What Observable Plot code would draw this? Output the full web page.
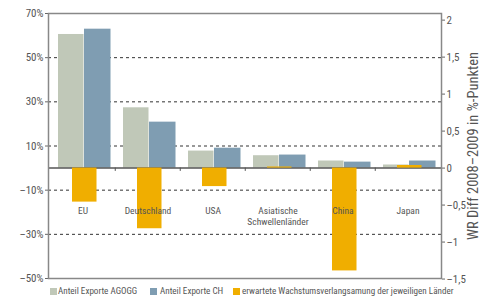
<!DOCTYPE html>
<html>
<head>
<meta charset="utf-8">
<script src="https://cdn.jsdelivr.net/npm/d3@7"></script>
<script src="https://cdn.jsdelivr.net/npm/@observablehq/plot@0.6"></script>
<style>
  html, body { margin: 0; padding: 0; background: #fff; overflow: hidden; }
  #wrap { position: relative; width: 480px; height: 297px; font-family: "Roboto Condensed", "DejaVu Sans Condensed", sans-serif; }
  #legend { position: absolute; left: 0; top: 281px; width: 480px; height: 16px; font-size: 9.1px; color: #555; }
  #legend .sw { position: absolute; top: 7px; width: 7px; height: 7px; }
  #legend .lb { position: absolute; top: 4px; line-height: 12px; white-space: nowrap; }
  #rtitle { position: absolute; left: 473.5px; top: 145.5px; transform: translate(-50%, -50%) rotate(-90deg); white-space: nowrap; font-size: 14.5px; line-height: 14.5px; color: #555; }
</style>
</head>
<body>
<div id="wrap"><div id="chart"></div><div id="legend"></div><div id="rtitle"></div></div>
<script>
const categories = ["EU", "Deutschland", "USA", "Asiatische\nSchwellenländer", "China", "Japan"];
const anteilAGOGG = [60.5, 27.3, 7.7, 5.6, 3.2, 1.4];
const anteilCH = [62.9, 20.8, 9.0, 5.9, 2.7, 3.2];
const wachstum = [-0.46, -0.82, -0.25, 0.015, -1.39, 0.035];
const leftTicks = [70, 50, 30, 10, -10, -30, -50];
const gridTicks = [50, 30, 10, -10, -30];
const rightTicks = [2, 1.5, 1, 0.5, 0, -0.5, -1, -1.5];
const seriesNames = ["Anteil Exporte AGOGG", "Anteil Exporte CH", "erwartete Wachstumsverlangsamung der jeweiligen Länder"];
const colors = ["#c0c8b8", "#7f9db2", "#f0ae00"];
const rightTitle = "WR Diff 2008–2009 in %-Punkten";

const W = 480, H = 297;
const mL = 48, mR = 39, mT = 13, mB = 19;
const bw = (W - mL - mR) / categories.length;
// right-axis units expressed in left-axis (%) units
const k = 33.5;

const rows = categories.map((c, i) => ({c, a: anteilAGOGG[i], ch: anteilCH[i], w: wachstum[i] * k}));

const minus = s => s.replace("-", "–");
const fmtLeft = d => minus(String(d)) + "%";
const fmtRight = d => minus(String(Math.round(d / k * 10) / 10).replace(".", ","));

const font = "Roboto Condensed, DejaVu Sans Condensed, sans-serif";

const plot = Plot.plot({
  width: W, height: H,
  marginLeft: mL, marginRight: mR, marginTop: mT, marginBottom: mB,
  style: {fontFamily: font, fontSize: "10px", color: "#555", background: "transparent"},
  x: {type: "band", domain: categories, padding: 0, axis: null},
  y: {domain: [-50, 70], axis: null},
  marks: [
    Plot.ruleY(gridTicks, {stroke: "#333", strokeDasharray: "3,3", strokeWidth: 1}),
    Plot.barY(rows, {x: "c", y: "a", fill: colors[0], insetLeft: 8, insetRight: bw - 34}),
    Plot.barY(rows, {x: "c", y: "ch", fill: colors[1], insetLeft: 34, insetRight: 4.5}),
    Plot.ruleY([0], {stroke: "#555", strokeWidth: 1.5}),
    Plot.ruleX(categories.slice(1), {x: d => d, dx: -bw / 2, y1: 0, y2: -1.5, stroke: "#555"}),
    Plot.barY(rows, {x: "c", y: "w", fill: colors[2], insetLeft: 22, insetRight: bw - 47}),
    Plot.axisX({anchor: "bottom", tickSize: 0, label: null, dy: -82, fill: "#555", fontSize: 9.5, lineHeight: 1.2}),
    Plot.axisY(leftTicks, {anchor: "left", tickSize: 3, tickPadding: 2, label: null, tickFormat: fmtLeft, fill: "#555", stroke: "#666", fontSize: 11}),
    Plot.axisY(rightTicks.map(v => v * k), {anchor: "right", tickSize: 3, tickPadding: 2, label: null, tickFormat: fmtRight, fill: "#555", stroke: "#666", fontSize: 11}),
    Plot.frame({stroke: "#888", strokeWidth: 1.5})
  ]
});
document.getElementById("chart").appendChild(plot);

document.getElementById("rtitle").textContent = rightTitle;

const legend = document.getElementById("legend");
const pos = [[50, 58], [150, 160], [233, 242]];
seriesNames.forEach((n, i) => {
  const s = document.createElement("div");
  s.className = "sw"; s.style.left = pos[i][0] + "px"; s.style.background = colors[i];
  const t = document.createElement("div");
  t.className = "lb"; t.style.left = pos[i][1] + "px"; t.textContent = n;
  legend.appendChild(s); legend.appendChild(t);
});
</script>
</body>
</html>
